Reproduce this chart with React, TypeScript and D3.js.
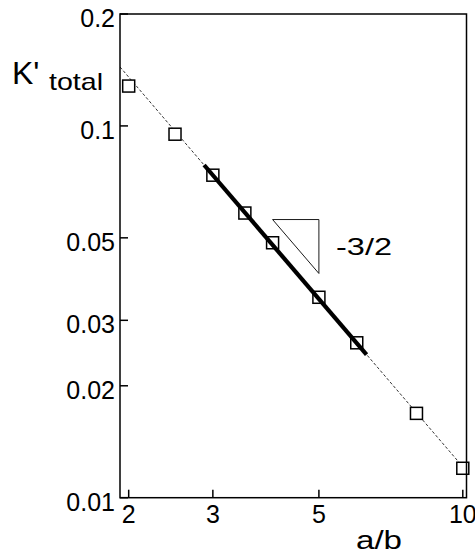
import React from "react";
import * as d3 from "d3";

// Data points (a/b, K'total)
const ratioAB = [2, 2.5, 3, 3.5, 4, 5, 6, 8, 10];
const kTotal = [0.128, 0.095, 0.0737, 0.0583, 0.0485, 0.0346, 0.0261, 0.01686, 0.012];

// Thin dashed reference line endpoints
const dashA = [1.918, 10.18];
const dashK = [0.1441, 0.01179];

// Thick -3/2 segment endpoints
const thickA = [2.876, 6.29];
const thickK = [0.0785, 0.02426];

// Slope triangle vertices
const triA = [4, 5, 5];
const triK = [0.056, 0.056, 0.0401];

// Tick values / labels
const xTicks = [2, 3, 5, 10];
const xTickLabels = ["2", "3", "5", "10"];
const yTicks = [0.01, 0.02, 0.03, 0.05, 0.1, 0.2];
const yTickLabels = ["0.01", "0.02", "0.03", "0.05", "0.1", "0.2"];

const W = 475;
const H = 557;
const FONT = "'Liberation Sans', Arial, Helvetica, sans-serif";

export default function App() {
  const x = d3.scaleLog().domain([1.918, 10.18]).range([120, 466.5]);
  const y = d3.scaleLog().domain([0.01, 0.2]).range([497.7, 14]);
  const [x0, x1] = x.range();
  const [y0, y1] = y.range();

  const line = d3
    .line<[number, number]>()
    .x((d) => x(d[0]))
    .y((d) => y(d[1]));

  const dashPts = dashA.map((a, i) => [a, dashK[i]] as [number, number]);
  const thickPts = thickA.map((a, i) => [a, thickK[i]] as [number, number]);
  const triPts = triA.map((a, i) => [a, triK[i]] as [number, number]);

  const sq = 12;

  return (
    <svg
      width={W}
      height={H}
      style={{ position: "absolute", left: 0, top: 0, background: "#fff" }}
      fontFamily={FONT}
    >
      <defs>
        <clipPath id="plotclip">
          <rect x={x0} y={y1} width={x1 - x0} height={y0 - y1} />
        </clipPath>
      </defs>
      <rect x={0} y={0} width={W} height={H} fill="#fff" />

      {/* dashed fit line */}
      <path
        d={line(dashPts) || ""}
        fill="none"
        stroke="#000"
        strokeWidth={0.8}
        strokeDasharray="3,2"
        clipPath="url(#plotclip)"
      />

      {/* data squares */}
      {ratioAB.map((a, i) => (
        <rect
          key={i}
          x={x(a) - sq / 2}
          y={y(kTotal[i]) - sq / 2}
          width={sq}
          height={sq}
          fill="#fff"
          stroke="#000"
          strokeWidth={1.5}
        />
      ))}

      {/* thick slope line */}
      <path d={line(thickPts) || ""} fill="none" stroke="#000" strokeWidth={4.2} />

      {/* slope triangle */}
      <path d={(line(triPts) || "") + "Z"} fill="none" stroke="#000" strokeWidth={0.9} />
      <text
        x={336}
        y={255}
        fontSize={24}
        textLength={56}
        lengthAdjust="spacingAndGlyphs"
      >
        -3/2
      </text>

      {/* frame */}
      <rect
        x={x0}
        y={y1}
        width={x1 - x0}
        height={y0 - y1}
        fill="none"
        stroke="#000"
        strokeWidth={1.5}
      />

      {/* x ticks */}
      {xTicks.map((t, i) => (
        <g key={"xt" + i}>
          <line x1={x(t)} x2={x(t)} y1={y0} y2={y0 - 8} stroke="#000" strokeWidth={1.5} />
          <text x={x(t)} y={523} fontSize={25} textAnchor="middle">
            {xTickLabels[i]}
          </text>
        </g>
      ))}

      {/* y ticks */}
      {yTicks.map((t, i) => (
        <g key={"yt" + i}>
          <line x1={x0} x2={x0 + 8} y1={y(t)} y2={y(t)} stroke="#000" strokeWidth={1.5} />
          <text x={115} y={y(t) + 13} fontSize={25} textAnchor="end">
            {yTickLabels[i]}
          </text>
        </g>
      ))}

      {/* axis titles */}
      <text x={356} y={549} fontSize={25} textLength={46} lengthAdjust="spacingAndGlyphs">
        a/b
      </text>
      <text x={12} y={84} fontSize={32}>
        K'
      </text>
      <text x={49} y={89.5} fontSize={24} textLength={54} lengthAdjust="spacingAndGlyphs">
        total
      </text>
    </svg>
  );
}
